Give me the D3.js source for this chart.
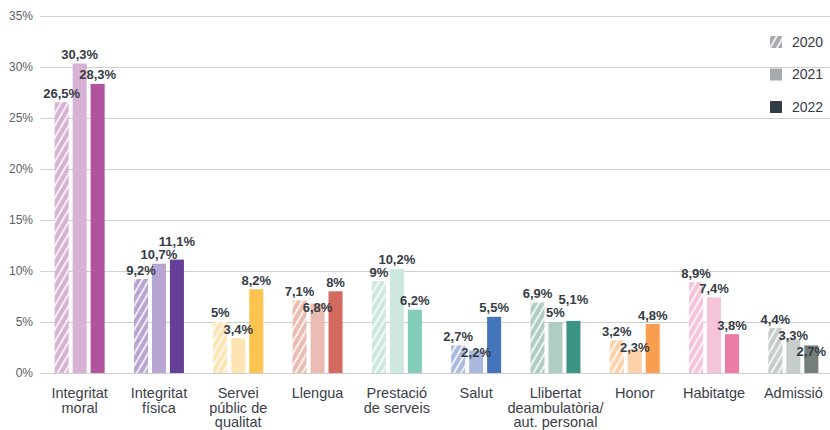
<!DOCTYPE html>
<html>
<head>
<meta charset="utf-8">
<script src="https://cdn.jsdelivr.net/npm/d3@7"></script>
<style>
  body { margin: 0; background: #fff; }
  svg { display: block; font-family: "Liberation Sans", Arial, sans-serif; }
</style>
</head>
<body>
<div id="chart"></div>
<script>
const categories = [
  ["Integritat", "moral"],
  ["Integritat", "física"],
  ["Servei", "públic de", "qualitat"],
  ["Llengua"],
  ["Prestació", "de serveis"],
  ["Salut"],
  ["Llibertat", "deambulatòria/", "aut. personal"],
  ["Honor"],
  ["Habitatge"],
  ["Admissió"]
];
const years = ["2020", "2021", "2022"];
const values2020 = [26.5, 9.2, 5, 7.1, 9, 2.7, 6.9, 3.2, 8.9, 4.4];
const values2021 = [30.3, 10.7, 3.4, 6.8, 10.2, 2.2, 5, 2.3, 7.4, 3.3];
const values2022 = [28.3, 11.1, 8.2, 8, 6.2, 5.5, 5.1, 4.8, 3.8, 2.7];
const lightColors = ["#d8b1d4", "#b6a6d1", "#fee4b0", "#ebbcb1", "#cde8e1",
  "#aab9de", "#afcdc3", "#fdd2aa", "#f6c4d8", "#c6cdca"];
const darkColors = ["#b1529f", "#663f98", "#fec44f", "#d4695f", "#82ccb9",
  "#4474b9", "#3b9483", "#f99d50", "#ec7ba6", "#767e7b"];
const legendColors = ["#a6a9ae", "#a6a9ae", "#343d47"];
const yTicks = [0, 5, 10, 15, 20, 25, 30, 35];

const width = 830, height = 430;
const margin = { top: 15.5, right: -3, bottom: 57, left: 40 };
const textColor = "#353c45";

const svg = d3.select("#chart").append("svg")
  .attr("width", width)
  .attr("height", height);

const defs = svg.append("defs");
function hatch(id, color) {
  const p = defs.append("pattern")
    .attr("id", id)
    .attr("patternUnits", "userSpaceOnUse")
    .attr("width", 6)
    .attr("height", 6)
    .attr("patternTransform", "rotate(30)");
  p.append("rect").attr("width", 6).attr("height", 6).attr("fill", color);
  p.append("line")
    .attr("x1", 3).attr("y1", 0).attr("x2", 3).attr("y2", 6)
    .attr("stroke", "#fff").attr("stroke-width", 1.6);
  return `url(#${id})`;
}

const y = d3.scaleLinear()
  .domain([0, 35])
  .range([height - margin.bottom, margin.top]);

const x0 = d3.scaleBand()
  .domain(d3.range(categories.length))
  .range([margin.left, width - margin.right]);

const x1 = d3.scaleBand()
  .domain(years)
  .range([0, 50])
  .paddingInner(0.22);

// gridlines + y labels
svg.append("g")
  .selectAll("line")
  .data(yTicks)
  .join("line")
  .attr("x1", margin.left)
  .attr("x2", width)
  .attr("y1", d => Math.round(y(d)) + 0.5)
  .attr("y2", d => Math.round(y(d)) + 0.5)
  .attr("stroke", "#cfcfcf");

svg.append("g")
  .selectAll("text")
  .data(yTicks)
  .join("text")
  .attr("x", 33)
  .attr("y", d => y(d))
  .attr("dy", "0.35em")
  .attr("text-anchor", "end")
  .attr("font-size", "12px")
  .attr("fill", "#5a5f66")
  .text(d => d + "%");

// bars
const series = [values2020, values2021, values2022];
categories.forEach((cat, i) => {
  const gx = x0(i) + x0.bandwidth() / 2 - 25;
  const pat = hatch("h" + i, lightColors[i]);
  const fills = [pat, lightColors[i], darkColors[i]];
  const g = svg.append("g").attr("transform", `translate(${gx},0)`);

  years.forEach((yr, k) => {
    const v = series[k][i];
    g.append("rect")
      .attr("x", x1(yr))
      .attr("y", y(v))
      .attr("width", x1.bandwidth())
      .attr("height", y(0) - y(v))
      .attr("fill", fills[k]);
  });

  // labels, nudged when they collide with the previous one
  let prev = null;
  years.forEach((yr, k) => {
    const v = series[k][i];
    let ly = y(v) - 9;
    if (prev !== null && Math.abs(ly - prev) < 13) {
      ly = ly > prev ? prev + 16 : prev - 13;
    }
    prev = ly;
    g.append("text")
      .attr("x", x1(yr) + x1.bandwidth() / 2)
      .attr("y", ly)
      .attr("dy", "0.35em")
      .attr("text-anchor", "middle")
      .attr("font-size", "13px")
      .attr("font-weight", "bold")
      .attr("fill", textColor)
      .text(String(v).replace(".", ",") + "%");
  });

  // category label
  const t = svg.append("text")
    .attr("x", x0(i) + x0.bandwidth() / 2)
    .attr("y", 398)
    .attr("text-anchor", "middle")
    .attr("font-size", "14.5px")
    .attr("fill", "#3b414a");
  cat.forEach((line, j) => {
    t.append("tspan")
      .attr("x", x0(i) + x0.bandwidth() / 2)
      .attr("dy", j === 0 ? 0 : 14.5)
      .text(line);
  });
});

// legend
const legend = svg.append("g").attr("transform", "translate(770,42)");
const legendPat = hatch("hl", legendColors[0]);
years.forEach((yr, k) => {
  const row = legend.append("g").attr("transform", `translate(0,${k * 32.5})`);
  row.append("rect")
    .attr("x", 0).attr("y", -6)
    .attr("width", 12).attr("height", 12)
    .attr("fill", k === 0 ? legendPat : legendColors[k]);
  row.append("text")
    .attr("x", 22).attr("y", 0)
    .attr("dy", "0.35em")
    .attr("font-size", "14px")
    .attr("fill", textColor)
    .text(yr);
});
</script>
</body>
</html>
